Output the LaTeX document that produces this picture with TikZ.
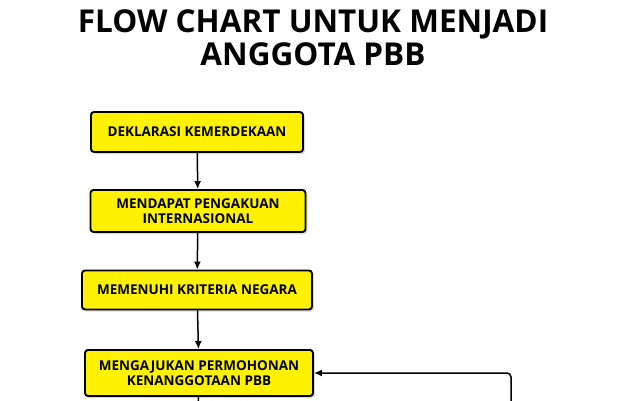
\documentclass[tikz,border=0pt]{standalone}
\usepackage{fontspec}
\setmainfont{Open Sans}
\usetikzlibrary{arrows.meta,shadows}
\begin{document}
\begin{tikzpicture}[x=1pt, y=-1pt,
    stepbox/.style={draw=black, line width=1.9pt, fill=yellow,
        rounded corners=3pt, align=center, inner sep=2pt,
        font=\bfseries\fontsize{13.5}{15}\selectfont,
        drop shadow={shadow xshift=2pt, shadow yshift=-2pt, opacity=0.3}},
    flow/.style={-{Latex[length=8pt, width=7pt]}, line width=1.5pt}]
    \useasboundingbox (0,0) rectangle (626,401);
    \node[font=\bfseries\fontsize{31.5}{33}\selectfont, align=center] (title) at (313,38)
        {FLOW CHART UNTUK MENJADI\\ANGGOTA PBB};
    % langkah-langkah
    \node[stepbox, minimum width=212pt, minimum height=40pt] (deklarasi) at (197,132) {DEKLARASI KEMERDEKAAN};
    \node[stepbox, minimum width=215pt, minimum height=42pt] (pengakuan) at (198,211) {MENDAPAT PENGAKUAN\\INTERNASIONAL};
    \node[stepbox, minimum width=230pt, minimum height=39pt] (kriteria) at (197,290) {MEMENUHI KRITERIA NEGARA};
    \node[stepbox, minimum width=228pt, minimum height=46pt] (permohonan) at (199,373) {MENGAJUKAN PERMOHONAN\\KENANGGOTAAN PBB};
    \coordinate (balik) at (511,410);
    \coordinate (lanjut) at (198,410);
    % panah
    \draw[flow] (deklarasi) -- (pengakuan);
    \draw[flow] (pengakuan) -- (kriteria);
    \draw[flow] (kriteria) -- (permohonan);
    \draw[line width=1.5pt] (permohonan) -- (lanjut);
    \draw[flow, rounded corners=4pt] (balik) |- (permohonan.east);
\end{tikzpicture}
\end{document}
